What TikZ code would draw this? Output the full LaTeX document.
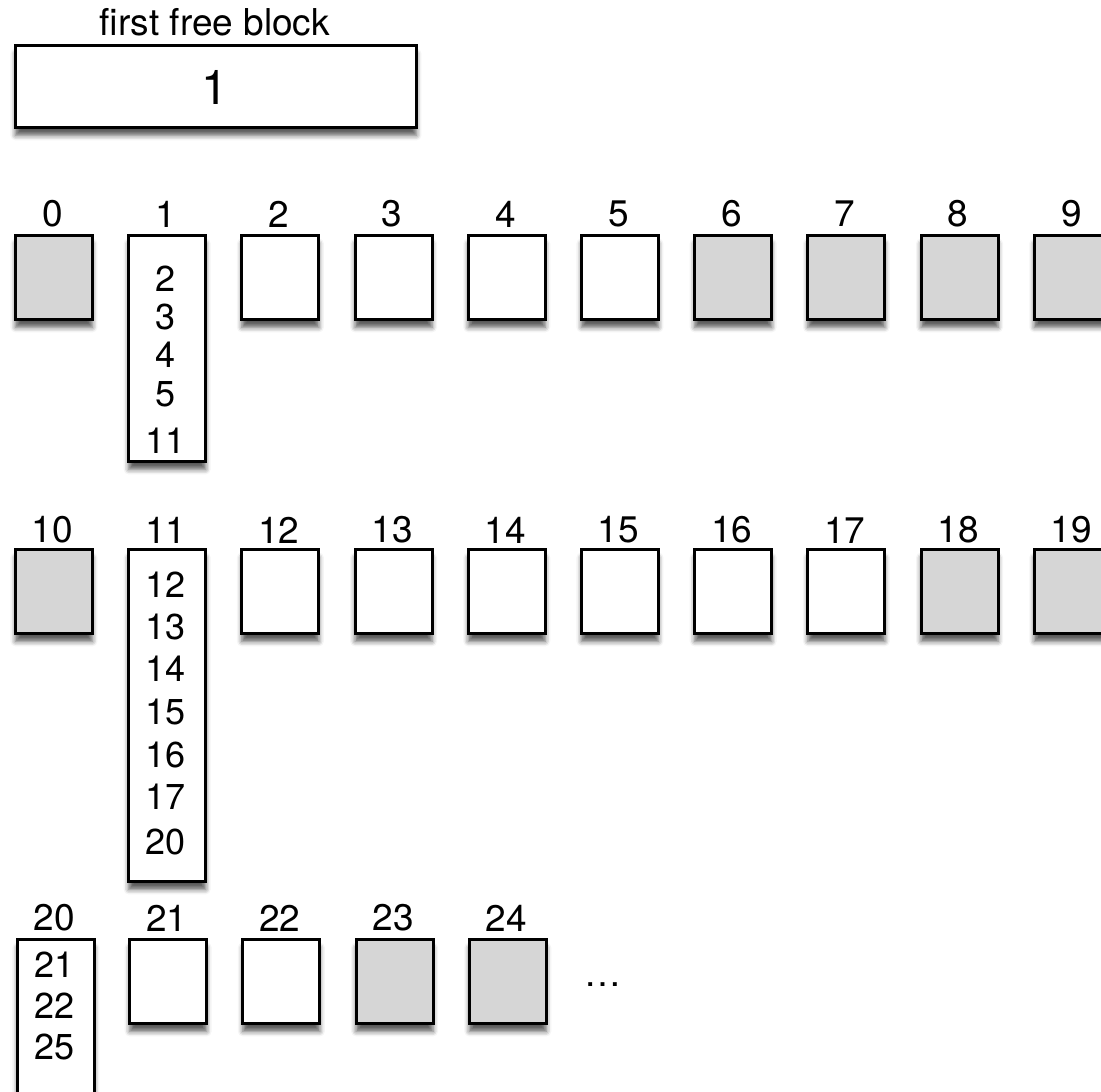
\documentclass[tikz,border=0pt]{standalone}
\usepackage{fontspec}
\setmainfont{TeX Gyre Heros}
\usetikzlibrary{shadows.blur}
\definecolor{usedgray}{HTML}{D6D6D6}
\begin{document}
\begin{tikzpicture}[x=1pt,y=-1pt,
  blk/.style={draw=black, line width=2.9pt, minimum width=77pt, minimum height=84pt, inner sep=0pt, anchor=north west,
    blur shadow={shadow xshift=0pt, shadow yshift=-8pt, shadow blur radius=5pt, shadow opacity=65}},
  usedblk/.style={blk, fill=usedgray},
  freeblk/.style={blk, fill=white},
  lbl/.style={font=\fontsize{37}{40}\selectfont, inner sep=0pt},
  entry/.style={font=\fontsize{36}{40}\selectfont, inner sep=0pt}]
\useasboundingbox (0,0) rectangle (1101,1092);
\clip (0,0) rectangle (1101,1092);

% first free block
\node[lbl] (fftitle) at (215,22) {first free block};
\node[freeblk, minimum width=401pt, minimum height=82pt] (ffb) at (14,44) {};
\node[font=\fontsize{48}{50}\selectfont, inner sep=0pt] (ffval) at (215,87) {1};

% row 1
\foreach \i/\s in {0/usedblk,2/freeblk,3/freeblk,4/freeblk,5/freeblk,6/usedblk,7/usedblk,8/usedblk,9/usedblk}{
  \node[\s] (b\i) at ({14+113.2*\i},234) {};
  \node[lbl] (l\i) at ({52.5+113.2*\i},214) {\i};
}
\node[freeblk, minimum height=226pt] (b1) at (127.2,234) {};
\node[lbl] (l1) at (165.7,214) {1};
\foreach \t/\y in {2/279,3/317,4/355,5/394,11/441}{
  \node[entry] (e1-\t) at (165.7,\y) {\t};
}

% row 2
\foreach \i/\s in {0/usedblk,2/freeblk,3/freeblk,4/freeblk,5/freeblk,6/freeblk,7/freeblk,8/usedblk,9/usedblk}{
  \pgfmathtruncatemacro{\n}{10+\i}
  \node[\s] (b\n) at ({14+113.2*\i},548) {};
  \node[lbl] (l\n) at ({52.5+113.2*\i},530) {\n};
}
\node[freeblk, minimum height=332pt] (b11) at (127.2,548) {};
\node[lbl] (l11) at (165.7,530) {11};
\foreach \t/\y in {12/585,13/627,14/669,15/712,16/755,17/797,20/842}{
  \node[entry] (e11-\t) at (165.7,\y) {\t};
}

% row 3
\node[freeblk, minimum height=200pt] (b20) at (16,938) {};
\node[lbl] (l20) at (54.5,918) {20};
\foreach \t/\y in {21/965,22/1006,25/1047}{
  \node[entry] (e20-\t) at (54.5,\y) {\t};
}
\foreach \i/\s in {1/freeblk,2/freeblk,3/usedblk,4/usedblk}{
  \pgfmathtruncatemacro{\n}{20+\i}
  \node[\s] (b\n) at ({15+113.2*\i},938) {};
  \node[lbl] (l\n) at ({53.5+113.2*\i},918) {\n};
}
\node[lbl] (dots) at (603,985) {\dots};
\end{tikzpicture}
\end{document}
